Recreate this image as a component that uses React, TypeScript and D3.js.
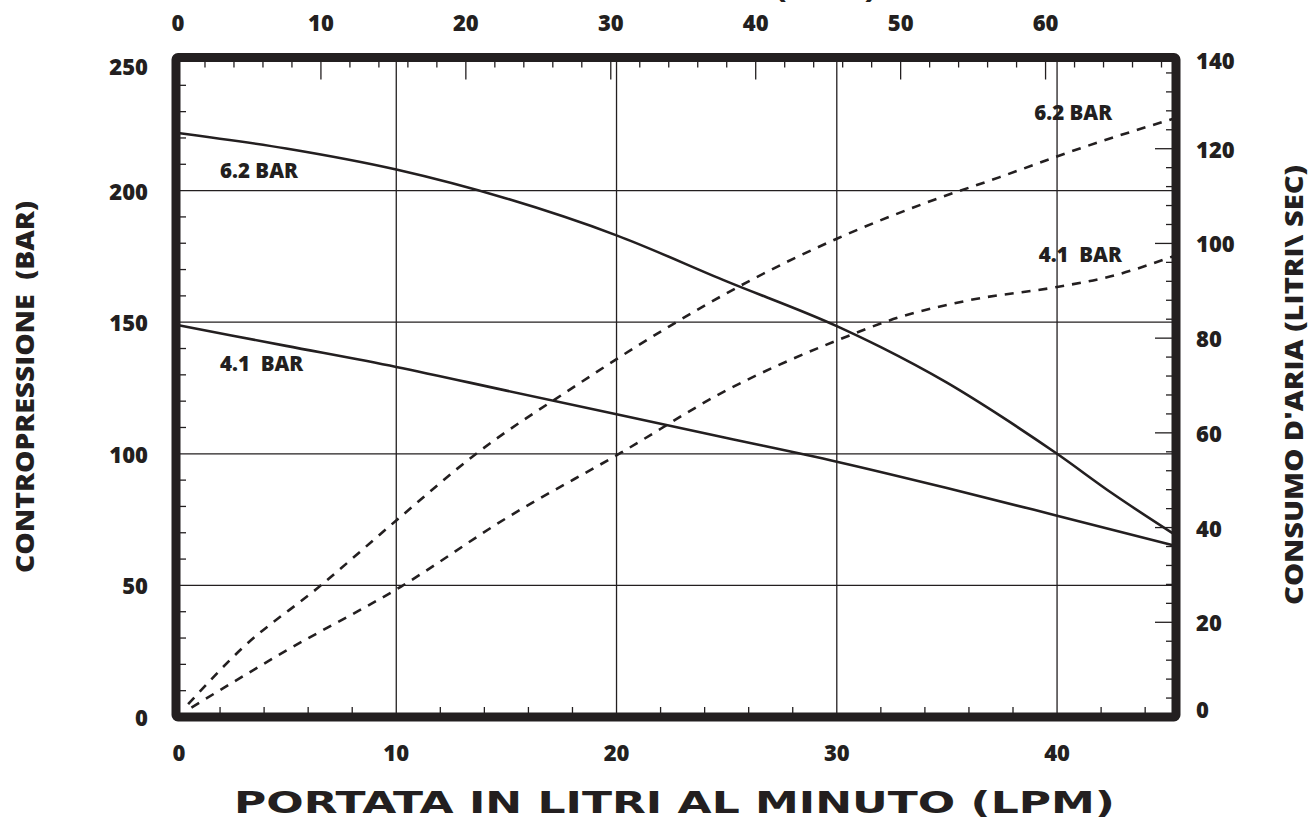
import React from "react";
import * as d3 from "d3";

// ---------- data ----------
const lpmTicks = [0, 10, 20, 30, 40];
const topTicks = [0, 10, 20, 30, 40, 50, 60];
const barTicks = [0, 50, 100, 150, 200, 250];
const lsTicks = [0, 20, 40, 60, 80, 100, 120, 140];

// back pressure (bar), left axis
const p62X = [0, 5, 10, 15, 20, 25, 30, 32, 35, 37.5, 40, 42.5, 45.4];
const p62Y = [222, 216, 208, 197, 183, 165.5, 148.5, 140.5, 127, 114, 100, 85, 69];
const p41X = [0, 5, 10, 15, 20, 25, 30, 35, 40, 45.4];
const p41Y = [149, 141, 133, 124, 115, 106, 97, 87, 76.5, 65];

// air consumption (l/s), right axis
const a62X = [0.55, 3, 6.5, 10, 13.6, 18, 22.4, 26, 30, 34, 37.4, 41, 45.4];
const a62Y = [2.7, 14.5, 27.5, 41.5, 55.5, 69.5, 82.5, 92, 101, 108.5, 114, 120, 126.5];
const a41X = [0.7, 5, 10.2, 15, 20.2, 25, 30, 32.9, 36, 40, 42.4, 45.4];
const a41Y = [2, 14, 27.5, 42, 55.8, 69, 79.5, 84.5, 88, 90.8, 93, 97.5];

const labels = [
  { text: "6.2 BAR", lpm: 2, bar: 208, anchor: "start" },
  { text: "4.1  BAR", lpm: 2, bar: 134.5, anchor: "start" },
  { text: "6.2 BAR", lpm: 42.5, ls: 127.8, anchor: "end" },
  { text: "4.1  BAR", lpm: 42.94, ls: 97.8, anchor: "end" },
];

const titleBottom = "PORTATA IN LITRI AL MINUTO (LPM)";
const titleTop = "CONSUMO D'ARIA (SCFM)";
const titleLeft = "CONTROPRESSIONE  (BAR)";
const titleRight = "CONSUMO D'ARIA (LITRI\\ SEC)";

// ---------- layout ----------
const W = 1313, H = 820;
const X0 = 176, X1 = 1176, Y0 = 717, Y1 = 57.5;
const INK = "#231f20";
const FONT = "'Open Sans', 'Noto Sans', sans-serif";

export default function App() {
  const x = d3.scaleLinear().domain([0, 45.4]).range([X0, X1]);
  const xTop = d3.scaleLinear().domain([0, 69]).range([X0, X1]);
  const yL = d3.scaleLinear().domain([0, 250]).range([Y0, 59]);
  const yR = d3.scaleLinear().domain([0, 140]).range([Y0, 54]);

  const lineL = d3.line<number>().curve(d3.curveMonotoneX);
  const mk = (xs: number[], ys: number[], ys2: d3.ScaleLinear<number, number>) =>
    lineL(xs.map((v, i) => [x(v), ys2(ys[i])] as any) as any) as string;

  const bottomMinor = d3.range(2, 45.4, 2).filter((v) => v % 10 !== 0);
  const topMinor = d3.range(2, 69, 2).filter((v) => v % 10 !== 0);
  const topMajor = d3.range(10, 69, 10);
  const leftMinor = d3.range(10, 250, 10).filter((v) => v % 50 !== 0);
  const rightMinor = d3.range(4, 140, 4).filter((v) => v % 20 !== 0);
  const rightMajor = d3.range(20, 140, 20);

  const leftOff = (v: number) => (v === 250 ? 7 : 0);
  const rightOff = (v: number) => (v === 140 ? 6 : v === 0 ? -8 : 0);

  return (
    <svg width={W} height={H} style={{ position: "absolute", left: 0, top: 0, background: "#fff" }}
      fontFamily={FONT} fontWeight={800} fill={INK}>
      {/* grid */}
      {lpmTicks.filter((v) => v > 0).map((v) => (
        <line key={"gx" + v} x1={x(v)} x2={x(v)} y1={Y1} y2={Y0} stroke={INK} strokeWidth={1.3} />
      ))}
      {barTicks.filter((v) => v > 0 && v < 250).map((v) => (
        <line key={"gy" + v} x1={X0} x2={X1} y1={yL(v)} y2={yL(v)} stroke={INK} strokeWidth={1.3} />
      ))}
      {/* ticks */}
      {bottomMinor.map((v) => (
        <line key={"bt" + v} x1={x(v)} x2={x(v)} y1={Y0} y2={Y0 - 10} stroke={INK} strokeWidth={1.3} />
      ))}
      {topMinor.map((v) => (
        <line key={"tt" + v} x1={xTop(v)} x2={xTop(v)} y1={Y1} y2={Y1 + 10} stroke={INK} strokeWidth={1.3} />
      ))}
      {topMajor.map((v) => (
        <line key={"tT" + v} x1={xTop(v)} x2={xTop(v)} y1={Y1} y2={Y1 + 22} stroke={INK} strokeWidth={1.3} />
      ))}
      {leftMinor.map((v) => (
        <line key={"lt" + v} x1={X0} x2={X0 + 10} y1={yL(v)} y2={yL(v)} stroke={INK} strokeWidth={1.3} />
      ))}
      {rightMinor.map((v) => (
        <line key={"rt" + v} x1={X1} x2={X1 - 10} y1={yR(v)} y2={yR(v)} stroke={INK} strokeWidth={1.3} />
      ))}
      {rightMajor.map((v) => (
        <line key={"rT" + v} x1={X1} x2={X1 - 21} y1={yR(v)} y2={yR(v)} stroke={INK} strokeWidth={1.3} />
      ))}

      {/* curves */}
      <g fill="none" stroke={INK} strokeWidth={2.6}>
        <path d={mk(p62X, p62Y, yL)} />
        <path d={mk(p41X, p41Y, yL)} />
        <path d={mk(a62X, a62Y, yR)} strokeDasharray="9,8" />
        <path d={mk(a41X, a41Y, yR)} strokeDasharray="9,8" />
      </g>

      {/* frame */}
      <rect x={X0} y={Y1} width={X1 - X0} height={Y0 - Y1} fill="none" stroke={INK}
        strokeWidth={9} strokeLinejoin="round" rx={2} />

      {/* in-plot labels */}
      {labels.map((l, i) => (
        <text key={"lab" + i} x={x(l.lpm)} y={l.bar !== undefined ? yL(l.bar) : yR(l.ls as number)}
          fontSize={20.5} textAnchor={l.anchor} dominantBaseline="central" style={{ whiteSpace: "pre" }}>{l.text}</text>
      ))}

      {/* tick labels */}
      {lpmTicks.map((v) => (
        <text key={"bl" + v} x={x(v) + (v === 0 ? 3 : 0)} y={752} fontSize={22} textAnchor="middle" dominantBaseline="central">{v}</text>
      ))}
      {topTicks.map((v) => (
        <text key={"tl" + v} x={xTop(v) + (v === 0 ? 2 : 0)} y={22} fontSize={22} textAnchor="middle" dominantBaseline="central">{v}</text>
      ))}
      {barTicks.map((v) => (
        <text key={"ll" + v} x={148} y={yL(v) + leftOff(v)} fontSize={22} textAnchor="end" dominantBaseline="central">{v}</text>
      ))}
      {lsTicks.map((v) => (
        <text key={"rl" + v} x={1196} y={yR(v) + rightOff(v)} fontSize={22} textAnchor="start" dominantBaseline="central">{v}</text>
      ))}

      {/* titles */}
      <text x={674.5} y={802} fontSize={31} textAnchor="middle" dominantBaseline="central"
        fontFamily="'DejaVu Sans', sans-serif" fontWeight={700}
        textLength={881} lengthAdjust="spacingAndGlyphs">{titleBottom}</text>
      <text x={507} y={-2} fontSize={24} textAnchor="start" textLength={368}
        lengthAdjust="spacingAndGlyphs">{titleTop}</text>
      <text transform={`translate(24,387) rotate(-90)`} fontSize={24} textAnchor="middle"
        dominantBaseline="central" style={{ whiteSpace: "pre" }} textLength={372}
        lengthAdjust="spacingAndGlyphs">{titleLeft}</text>
      <text transform={`translate(1293,385) rotate(-90)`} fontSize={24} textAnchor="middle"
        dominantBaseline="central" textLength={440} lengthAdjust="spacingAndGlyphs">{titleRight}</text>
    </svg>
  );
}
